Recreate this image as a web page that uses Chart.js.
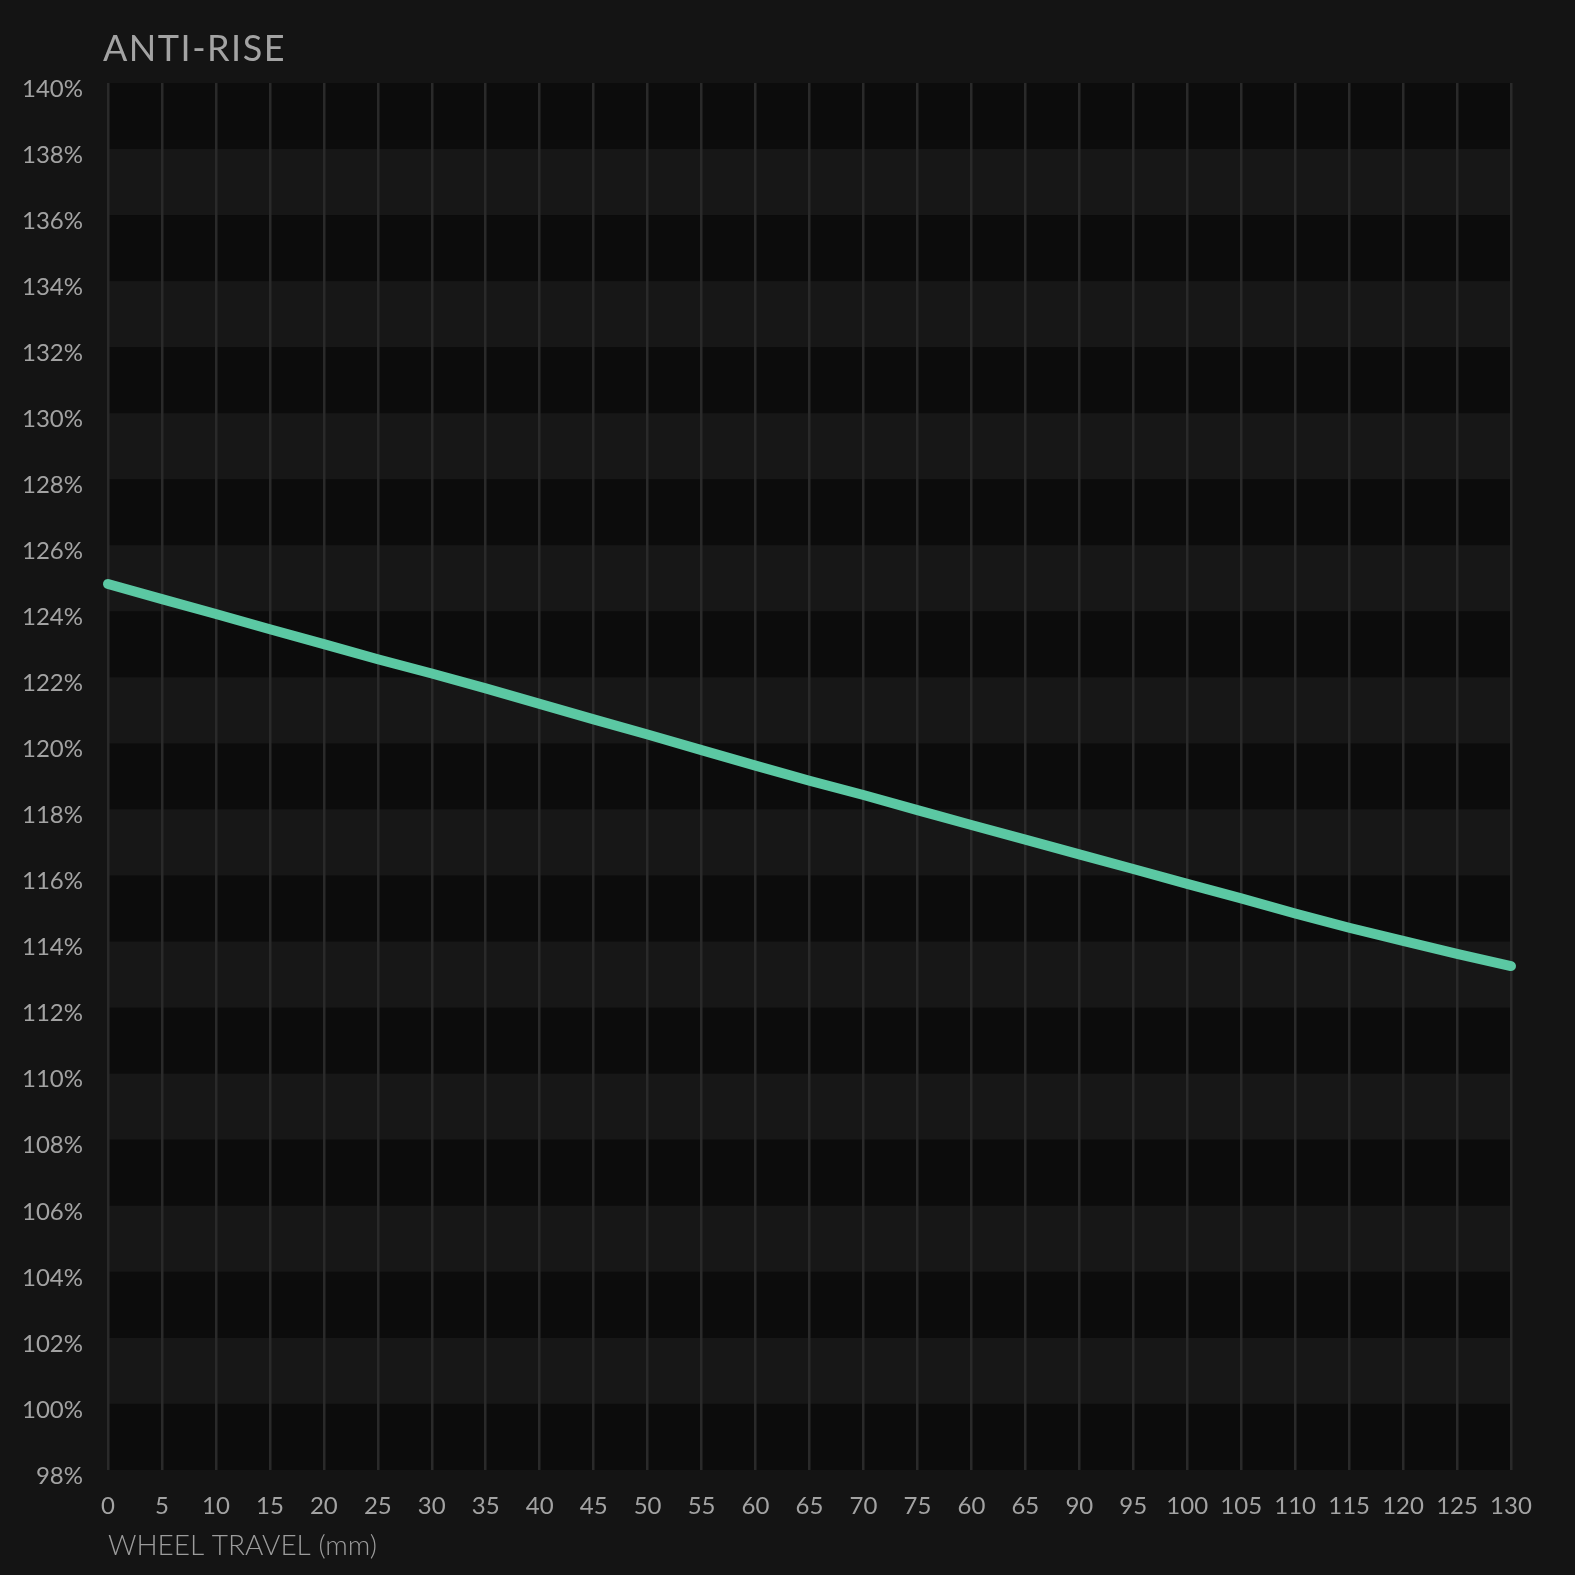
<!DOCTYPE html>
<html><head><meta charset="utf-8">
<script src="https://cdn.jsdelivr.net/npm/chart.js@4"></script>
<style>
html,body{margin:0;padding:0;background:#141414;}
#wrap{position:relative;width:1575px;height:1575px;}
#title{position:absolute;left:103px;top:29px;font-family:Lato,sans-serif;font-size:36px;line-height:36px;letter-spacing:1.5px;color:#a3a3a3;}
canvas{display:block}
</style></head><body>
<div id="wrap"><canvas id="c" width="1575" height="1575"></canvas><div id="title"></div></div>
<script>
const chartTitle = "ANTI-RISE";
const xAxisTitle = "WHEEL TRAVEL (mm)";
const travelLabels = ["0","5","10","15","20","25","30","35","40","45","50","55","60","65","70","75","60","65","90","95","100","105","110","115","120","125","130"];
const antiRise = [124.83,124.37,123.92,123.46,123.01,122.55,122.12,121.67,121.20,120.73,120.27,119.80,119.33,118.87,118.44,117.98,117.53,117.09,116.64,116.20,115.75,115.31,114.85,114.42,114.02,113.63,113.26];
const yMin = 98, yMax = 140, yStep = 2;

document.getElementById('title').textContent = chartTitle;

const bands = {
  id: 'bands',
  beforeDraw(chart) {
    const {ctx, chartArea: a, scales: {y}} = chart;
    ctx.save();
    let i = 0;
    for (let v = yMax; v > yMin; v -= yStep, i++) {
      const t = y.getPixelForValue(v), b = y.getPixelForValue(v - yStep);
      ctx.fillStyle = i % 2 === 0 ? '#0c0c0c' : '#171717';
      ctx.fillRect(a.left, t, a.right - a.left, b - t);
    }
    ctx.restore();
  }
};

new Chart(document.getElementById('c'), {
  type: 'line',
  data: {
    labels: travelLabels,
    datasets: [{
      data: antiRise,
      borderColor: '#5bc8a3',
      borderWidth: 10,
      pointRadius: 0,
      borderCapStyle: 'round',
      borderJoinStyle: 'round',
      tension: 0,
      clip: false
    }]
  },
  options: {
    responsive: false,
    animation: false,
    devicePixelRatio: 1,
    layout: {padding: {top: 83, right: 64, bottom: 0, left: 0}},
    plugins: {legend: {display: false}, tooltip: {enabled: false}},
    scales: {
      x: {
        type: 'category',
        offset: false,
        grid: {color: '#2a2a2a', lineWidth: 2.5, drawTicks: false},
        border: {display: false},
        ticks: {color: '#a3a3a3', font: {family: 'Lato', size: 24}, padding: 22, autoSkip: false, maxRotation: 0},
        title: {display: true, text: xAxisTitle, align: 'start', color: '#9c9c9c', font: {family: 'Lato', size: 28, weight: 300}, padding: {top: 0, bottom: 12}},
        afterFit(s) { s.height = 105; }
      },
      y: {
        min: yMin, max: yMax,
        grid: {display: false},
        border: {display: false},
        ticks: {stepSize: yStep, color: '#a3a3a3', font: {family: 'Lato', size: 24}, padding: 17, labelOffset: 6, callback: v => v + '%'},
        afterFit(s) { s.width = 108; }
      }
    }
  },
  plugins: [bands]
});
</script>
</body></html>
